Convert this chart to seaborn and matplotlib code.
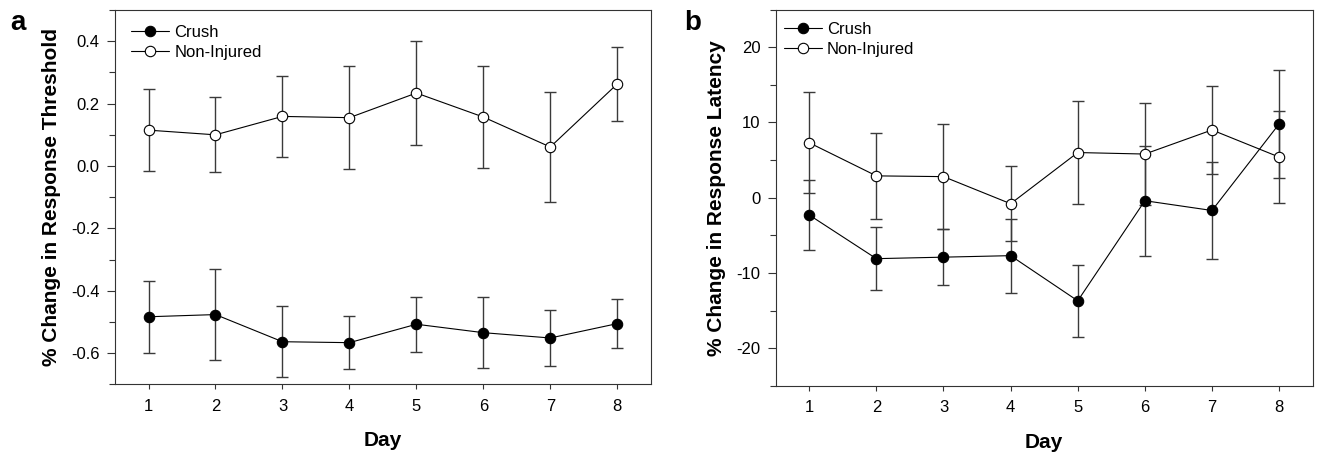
import matplotlib
matplotlib.use("Agg")
import matplotlib.pyplot as plt
import numpy as np
import pandas as pd
import seaborn as sns
from matplotlib.ticker import MultipleLocator

days = [1, 2, 3, 4, 5, 6, 7, 8]

# panel a: response threshold
thr_crush = [-0.483, -0.476, -0.563, -0.566, -0.507, -0.534, -0.551, -0.505]
thr_crush_err = [0.116, 0.146, 0.113, 0.085, 0.088, 0.113, 0.090, 0.078]
thr_ni = [0.115, 0.100, 0.159, 0.155, 0.234, 0.157, 0.061, 0.263]
thr_ni_err = [0.131, 0.120, 0.129, 0.165, 0.168, 0.163, 0.175, 0.120]

# panel b: response latency
lat_crush = [-2.3, -8.1, -7.9, -7.7, -13.7, -0.4, -1.7, 9.8]
lat_crush_err = [4.7, 4.2, 3.7, 4.9, 4.8, 7.3, 6.5, 7.2]
lat_ni = [7.3, 2.9, 2.8, -0.8, 6.0, 5.8, 9.0, 5.4]
lat_ni_err = [6.7, 5.7, 7.0, 5.0, 6.8, 6.8, 5.9, 6.1]

groups = ["Crush", "Non-Injured"]

sns.set_style("ticks")
plt.rcParams["font.family"] = ["Liberation Sans", "DejaVu Sans"]
plt.rcParams["axes.linewidth"] = 0.8
plt.rcParams["axes.edgecolor"] = "#333333"
plt.rcParams["text.color"] = "black"
plt.rcParams["axes.labelcolor"] = "black"
plt.rcParams["axes.unicode_minus"] = False


def make_df(crush, crush_err, ni, ni_err):
    return pd.DataFrame({
        "day": days * 2,
        "value": list(crush) + list(ni),
        "err": list(crush_err) + list(ni_err),
        "group": [groups[0]] * len(days) + [groups[1]] * len(days),
    })


def draw_panel(ax, df, ylim, major, minor, ylabel, leg_anchor):
    for grp, face in zip(groups, ["black", "white"]):
        sub = df[df["group"] == grp]
        ax.errorbar(sub["day"], sub["value"], yerr=sub["err"], fmt="none",
                    ecolor="#3a3a3a", elinewidth=1.0, capsize=4.5,
                    capthick=1.0, zorder=1)
        sns.lineplot(data=sub, x="day", y="value", ax=ax, color="black",
                     linewidth=0.8, marker="o", markersize=7.5,
                     markerfacecolor=face, markeredgecolor="black",
                     markeredgewidth=0.8, label=grp, zorder=3)
    ax.set_xlim(0.5, 8.5)
    ax.set_ylim(*ylim)
    ax.set_xticks(days)
    ax.yaxis.set_major_locator(MultipleLocator(major))
    ax.yaxis.set_minor_locator(MultipleLocator(minor))
    ax.tick_params(axis="x", length=3.3, width=0.8, pad=7, labelsize=12,
                   colors="#333333", labelcolor="black")
    ax.tick_params(axis="y", which="major", length=5.5, width=0.8, pad=5.5,
                   labelsize=12, colors="#333333", labelcolor="black")
    ax.tick_params(axis="y", which="minor", length=4.5, width=0.8,
                   colors="#333333")
    ax.set_xlabel("Day", fontsize=15, fontweight="bold", labelpad=12.5)
    ax.set_ylabel(ylabel, fontsize=15, fontweight="bold", labelpad=7.5)
    ax.legend(loc="upper left", bbox_to_anchor=leg_anchor, frameon=False,
              fontsize=12, handlelength=2.3, handletextpad=0.3,
              labelspacing=0.3, borderpad=0, borderaxespad=0)


fig = plt.figure(figsize=(13.21, 4.61), dpi=100)
ax_a = fig.add_axes([0.0871, 0.166, 0.4055, 0.8123])
ax_b = fig.add_axes([0.5872, 0.163, 0.4065, 0.8163])

draw_panel(ax_a, make_df(thr_crush, thr_crush_err, thr_ni, thr_ni_err),
           (-0.7, 0.5), 0.2, 0.1, "% Change in Response Threshold",
           (0.03, 0.96))
ax_a.yaxis.set_major_formatter(plt.FuncFormatter(lambda v, p: f"{v:.1f}"))
draw_panel(ax_b, make_df(lat_crush, lat_crush_err, lat_ni, lat_ni_err),
           (-25, 25), 10, 5, "% Change in Response Latency",
           (0.015, 0.968))

fig.text(0.0075, 0.936, "a", fontsize=20, fontweight="bold")
fig.text(0.518, 0.936, "b", fontsize=20, fontweight="bold")

fig.savefig("out.png", dpi=100)
plt.close(fig)
